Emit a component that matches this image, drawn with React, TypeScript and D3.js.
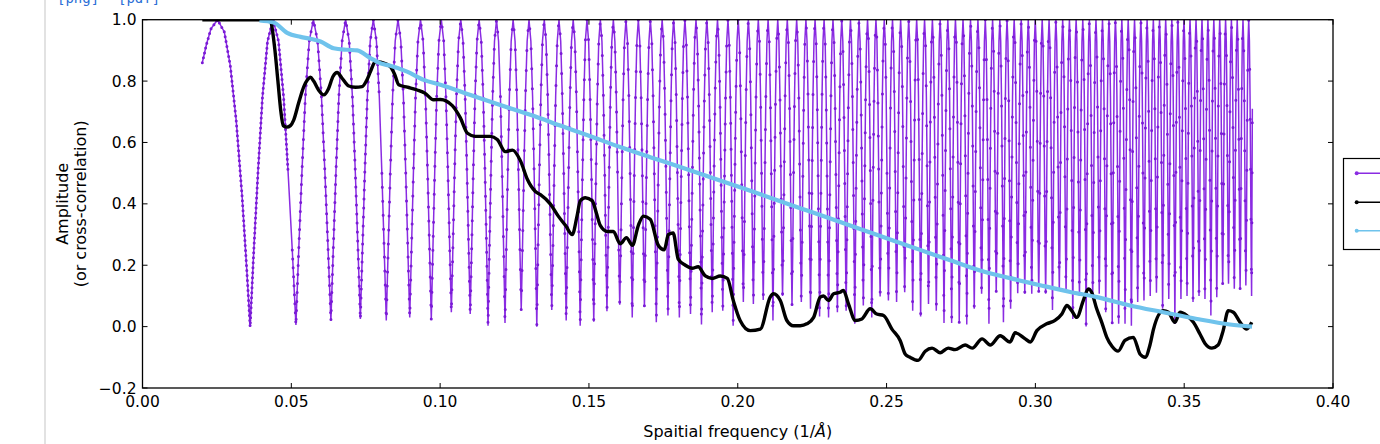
import React from "react";
import * as d3 from "d3";

// ---------- data ----------
const xTicks = [0, 0.05, 0.1, 0.15, 0.2, 0.25, 0.3, 0.35, 0.4];
const yTicks = [-0.2, 0, 0.2, 0.4, 0.6, 0.8, 1.0];

// purple: first (partial) lobe, read point by point
const ctfHead: [number, number][] = [
  [0.0201, 0.86], [0.0215, 0.92], [0.023, 0.97], [0.0252, 1.0], [0.0275, 0.96],
  [0.0295, 0.85], [0.0315, 0.67], [0.0335, 0.42], [0.035, 0.19],
];
// purple: frequencies of the minima (zeros) read along the axis
const ctfZeros = [
  0.03617, 0.05155, 0.0633, 0.0732, 0.08191, 0.08979, 0.09703, 0.10377, 0.11011, 0.1161,
  0.1218, 0.12725, 0.13248, 0.13751, 0.14236, 0.14706, 0.15162, 0.15605, 0.16035, 0.16455,
  0.16864, 0.17264, 0.17655, 0.18038, 0.18413, 0.18781, 0.19142, 0.19497, 0.19845, 0.20188,
  0.20525, 0.20856, 0.21183, 0.21505, 0.21823, 0.22136, 0.22445, 0.2275, 0.23051, 0.23348,
  0.23642, 0.23932, 0.24219, 0.24503, 0.24784, 0.25062, 0.25337, 0.25609, 0.25878, 0.26145,
  0.26409, 0.26671, 0.2693, 0.27187, 0.27442, 0.27695, 0.27946, 0.28194, 0.2844, 0.28685,
  0.28927, 0.29168, 0.29407, 0.29644, 0.29879, 0.30113, 0.30345, 0.30575, 0.30804, 0.31031,
  0.31257, 0.31481, 0.31704, 0.31926, 0.32146, 0.32364, 0.32582, 0.32798, 0.33012, 0.33226,
  0.33438, 0.33649, 0.33859, 0.34068, 0.34275, 0.34482, 0.34687, 0.34891, 0.35095, 0.35297,
  0.35498, 0.35698, 0.35897, 0.36095, 0.36293, 0.36489, 0.36684, 0.36879, 0.37072, 0.37265,
];
// purple: value reached at each minimum
const ctfMinima = [
  0, 0.005, 0.02, 0.025, 0.02, 0.03, 0.023, 0.047, 0.041, 0.003,
  0.012, 0.054, 0, 0.054, 0.02, 0.003, 0.016, 0.05, 0.071, 0.03,
  0.065, 0.014, 0.036, 0.03, 0.041, 0.007, 0.047, 0.052, 0.003, 0.08,
  0.074, 0.087, 0.02, 0.1, 0.069, 0.08, 0.058, 0.033, 0.03, 0.047,
  0.052, 0.009, 0.069, 0.03, 0.098, 0.085, 0.08, 0.112, 0.052, 0.033,
  0.074, 0.052, 0.012, 0.012, 0.012, 0.007, 0.058, 0.107, 0.009, 0.112,
  0.014, 0.058, 0.109, 0.107, 0.107, 0.112, 0.107, 0.054, 0.12, 0.11,
  0.025, 0.1, 0.0, 0.09, 0.107, 0.047, 0.011, 0.009, 0.009, 0.003,
  0.08, 0.085, 0.1, 0.11, 0.058, 0.09, 0.009, 0.09, 0.1, 0.08,
  0.1, 0.09, 0.036, 0.096, 0.14, 0.14, 0.123, 0.123, 0.134, 0.1,
];
const ctfTail: [number, number] = [0.3729, 0.71];
// shape of one lobe between two minima (fraction of lobe width, level)
const lobeFrac = [0.08, 0.17, 0.27, 0.38, 0.5, 0.62, 0.73, 0.83, 0.92];
const lobeLevel = [0.25, 0.5, 0.75, 0.93, 1, 0.93, 0.75, 0.5, 0.25];

// black: cross-correlation
const ccFreq = [
  0.0201, 0.043, 0.0436, 0.0445, 0.0455, 0.0465, 0.0473, 0.0485, 0.0497, 0.0508,
  0.0525, 0.0542, 0.0555, 0.0564, 0.0575, 0.0592, 0.0609, 0.0625, 0.064, 0.0654,
  0.067, 0.0693, 0.0715, 0.0738, 0.0752, 0.0766, 0.0783, 0.08, 0.0833, 0.0848,
  0.0861, 0.089, 0.0923, 0.095, 0.0978, 0.1001, 0.1041, 0.1068, 0.1092, 0.1118,
  0.1169, 0.1192, 0.1219, 0.1243, 0.127, 0.1293, 0.132, 0.1337, 0.137, 0.1397,
  0.1421, 0.1444, 0.146, 0.1471, 0.1488, 0.1511, 0.1525, 0.1538, 0.1562, 0.1582,
  0.1605, 0.1626, 0.1646, 0.1666, 0.1683, 0.1706, 0.1733, 0.1753, 0.1767, 0.1783,
  0.18, 0.1824, 0.1847, 0.1867, 0.1891, 0.1914, 0.1941, 0.1965, 0.1985, 0.2008,
  0.2042, 0.2076, 0.2109, 0.212, 0.2143, 0.2165, 0.2187, 0.221, 0.2232, 0.2255,
  0.2277, 0.2288, 0.2305, 0.2322, 0.2344, 0.2355, 0.2372, 0.2395, 0.2417, 0.2445,
  0.2467, 0.249, 0.2518, 0.2546, 0.2563, 0.2579, 0.2606, 0.263, 0.2653, 0.268,
  0.2707, 0.273, 0.2764, 0.2788, 0.2821, 0.2848, 0.2882, 0.2915, 0.2932, 0.2966,
  0.2983, 0.3005, 0.3038, 0.3066, 0.3089, 0.3106, 0.3122, 0.3139, 0.3161, 0.3178,
  0.3189, 0.3206, 0.3223, 0.324, 0.3258, 0.3278, 0.3301, 0.3329, 0.3352, 0.3369,
  0.3385, 0.3397, 0.343, 0.3447, 0.3469, 0.3486, 0.3509, 0.3531, 0.3553, 0.357,
  0.3593, 0.3614, 0.3631, 0.3648, 0.3665, 0.3688, 0.371, 0.3727,
];
const ccValue = [
  1.0, 1.0, 0.97, 0.9, 0.8, 0.7, 0.655, 0.65, 0.655, 0.673,
  0.73, 0.782, 0.805, 0.813, 0.8, 0.77, 0.755, 0.775, 0.815, 0.828,
  0.81, 0.784, 0.78, 0.782, 0.8, 0.831, 0.864, 0.862, 0.847, 0.82,
  0.788, 0.78, 0.771, 0.76, 0.739, 0.74, 0.72, 0.68, 0.63, 0.62,
  0.62, 0.61, 0.57, 0.575, 0.54, 0.48, 0.44, 0.43, 0.4, 0.36,
  0.33, 0.3, 0.36, 0.41, 0.42, 0.41, 0.37, 0.33, 0.31, 0.31,
  0.27, 0.29, 0.265, 0.33, 0.36, 0.35, 0.265, 0.25, 0.3, 0.305,
  0.22, 0.2, 0.19, 0.195, 0.165, 0.157, 0.165, 0.157, 0.085, 0.02,
  -0.013, -0.008, 0.096, 0.107, 0.085, 0.02, 0.003, 0.003, 0.009, 0.03,
  0.096, 0.1, 0.085, 0.107, 0.112, 0.118, 0.074, 0.02, 0.025, 0.058,
  0.041, 0.036, -0.008, -0.046, -0.09, -0.1, -0.11, -0.08, -0.07, -0.085,
  -0.07, -0.075, -0.06, -0.07, -0.04, -0.06, -0.03, -0.05, -0.02, -0.04,
  -0.05, -0.013, 0.009, 0.02, 0.041, 0.069, 0.052, 0.03, 0.085, 0.123,
  0.112, 0.058, 0.014, -0.035, -0.065, -0.08, -0.045, -0.035, -0.09, -0.1,
  -0.06, -0.008, 0.052, 0.047, 0.014, 0.047, 0.036, 0.014, -0.024, -0.055,
  -0.07, -0.06, -0.013, 0.052, 0.047, 0.014, -0.008, 0.014,
];

// light blue
const resFreq = [
  0.0393, 0.0441, 0.0486, 0.0531, 0.0564, 0.0598, 0.0642, 0.0688, 0.0721, 0.0766,
  0.0799, 0.0833, 0.0889, 0.0945, 0.1001, 0.1102, 0.1202, 0.1303, 0.1404, 0.1505,
  0.1605, 0.1706, 0.1807, 0.1908, 0.2008, 0.2109, 0.221, 0.2311, 0.2411, 0.2512,
  0.2613, 0.2714, 0.2814, 0.2915, 0.3016, 0.3117, 0.3207, 0.3318, 0.3429, 0.3543,
  0.3654, 0.3728,
];
const resValue = [
  0.998, 0.991, 0.957, 0.944, 0.938, 0.929, 0.907, 0.902, 0.9, 0.875,
  0.858, 0.85, 0.831, 0.804, 0.788, 0.755, 0.722, 0.69, 0.655, 0.62,
  0.585, 0.552, 0.52, 0.487, 0.454, 0.42, 0.386, 0.352, 0.318, 0.284,
  0.25, 0.216, 0.183, 0.158, 0.135, 0.113, 0.096, 0.069, 0.047, 0.025,
  0.007, 0.0,
];

// ---------- styles ----------
const PURPLE = "#8a2be2";
const PURPLE_DOT = "#7a1bd6";
const BLUE = "#6fc3ec";
const dotBands: [number, number, number][] = [
  [0.0, 0.05, 5], [0.05, 0.08, 9], [0.08, 0.12, 14], [0.12, 0.16, 20],
  [0.16, 0.2, 26], [0.2, 0.25, 33], [0.25, 0.3, 40], [0.3, 0.4, 50],
];

const W = 1380, H = 444;
const PX0 = 142.5, PX1 = 1333, PY0 = 388, PY1 = 19.7;

export default function App() {
  const x = d3.scaleLinear().domain([0, 0.4]).range([PX0, PX1]);
  const y = d3.scaleLinear().domain([-0.2, 1.0]).range([PY0, PY1]);

  const ctfPoints: [number, number][] = [...ctfHead];
  ctfZeros.forEach((a, i) => {
    ctfPoints.push([a, ctfMinima[i]]);
    if (i < ctfZeros.length - 1) {
      const b = ctfZeros[i + 1];
      lobeFrac.forEach((f, j) => ctfPoints.push([a + (b - a) * f, lobeLevel[j]]));
    }
  });
  ctfPoints.push(ctfTail);

  const lin = d3.line<[number, number]>().x((d) => x(d[0])).y((d) => y(d[1]));
  const smooth = d3
    .line<[number, number]>()
    .x((d) => x(d[0]))
    .y((d) => y(d[1]))
    .curve(d3.curveMonotoneX);

  const ccPts = ccFreq.map((k, i) => [k, ccValue[i]] as [number, number]);
  const resPts = resFreq.map((k, i) => [k, resValue[i]] as [number, number]);

  const fmtX = d3.format(".2f");
  const fmtY = d3.format(".1f");
  const font = "DejaVu Sans, Liberation Sans, sans-serif";
  const tick = 5;

  return (
    <svg
      width={W}
      height={H}
      style={{ position: "absolute", left: 0, top: 0, background: "#fff", overflow: "hidden" }}
      fontFamily={font}
    >
      <rect x={0} y={0} width={W} height={H} fill="#fff" />
      <line x1={45} y1={0} x2={45} y2={H} stroke="#e2e2e2" strokeWidth={2} />
      <text x={57} y={3} fontFamily="DejaVu Sans Mono, monospace" fontSize={14} fill="#2b6fd6">[png]</text>
      <text x={118} y={3} fontFamily="DejaVu Sans Mono, monospace" fontSize={14} fill="#2b6fd6">[pdf]</text>

      <defs>
        <clipPath id="plotArea">
          <rect x={PX0} y={PY1} width={PX1 - PX0} height={PY0 - PY1} />
        </clipPath>
      </defs>

      <g clipPath="url(#plotArea)">
        <path d={lin(ctfPoints) || ""} fill="none" stroke={PURPLE} strokeWidth={1.5} />
        {dotBands.map(([lo, hi, gap], i) => {
          const pts = ctfPoints.filter((p) => p[0] >= lo && p[0] <= hi);
          return (
            <path
              key={i}
              d={lin(pts) || ""}
              fill="none"
              stroke={PURPLE_DOT}
              strokeWidth={3}
              strokeLinecap="round"
              strokeDasharray={`0 ${gap}`}
            />
          );
        })}
        <path d={smooth(ccPts) || ""} fill="none" stroke="#000" strokeWidth={3.4} strokeLinejoin="round" />
        <path d={smooth(resPts) || ""} fill="none" stroke={BLUE} strokeWidth={4.2} strokeLinejoin="round" />
      </g>

      {/* frame */}
      <rect x={PX0} y={PY1} width={PX1 - PX0} height={PY0 - PY1} fill="none" stroke="#000" strokeWidth={1.3} />

      {/* x ticks */}
      {xTicks.map((t) => (
        <g key={"x" + t}>
          <line x1={x(t)} x2={x(t)} y1={PY0} y2={PY0 - tick} stroke="#000" strokeWidth={1} />
          <line x1={x(t)} x2={x(t)} y1={PY1} y2={PY1 + tick} stroke="#000" strokeWidth={1} />
          <text x={x(t)} y={406.5} textAnchor="middle" fontSize={15.5} fill="#000">
            {fmtX(t)}
          </text>
        </g>
      ))}
      {/* y ticks */}
      {yTicks.map((t) => (
        <g key={"y" + t}>
          <line x1={PX0} x2={PX0 + tick} y1={y(t)} y2={y(t)} stroke="#000" strokeWidth={1} />
          <line x1={PX1} x2={PX1 - tick} y1={y(t)} y2={y(t)} stroke="#000" strokeWidth={1} />
          <text x={136.5} y={y(t)} dy="0.36em" textAnchor="end" fontSize={15.5} fill="#000">
            {fmtY(t)}
          </text>
        </g>
      ))}

      {/* axis labels */}
      <text x={(PX0 + PX1) / 2} y={437} textAnchor="middle" fontSize={16} fill="#000">
        Spaitial frequency (1/<tspan fontStyle="italic">Å</tspan>)
      </text>
      <g transform={`translate(68, ${(PY0 + PY1) / 2}) rotate(-90)`}>
        <text x={0} y={0} textAnchor="middle" fontSize={16} fill="#000">Amplitude</text>
      </g>
      <g transform={`translate(86, ${(PY0 + PY1) / 2}) rotate(-90)`}>
        <text x={0} y={0} textAnchor="middle" fontSize={16} fill="#000">(or cross-correlation)</text>
      </g>

      {/* legend (cut by the page edge) */}
      <rect x={1343.5} y={158.5} width={80} height={91} fill="#fff" stroke="#000" strokeWidth={1.2} />
      {[
        { c: PURPLE, yy: 173.3 },
        { c: "#000", yy: 202.3 },
        { c: BLUE, yy: 230.7 },
      ].map((l, i) => (
        <g key={"lg" + i}>
          <line x1={1356.7} x2={1400} y1={l.yy} y2={l.yy} stroke={l.c} strokeWidth={1.4} />
          <circle cx={1356.7} cy={l.yy} r={2} fill={l.c} />
        </g>
      ))}
    </svg>
  );
}
